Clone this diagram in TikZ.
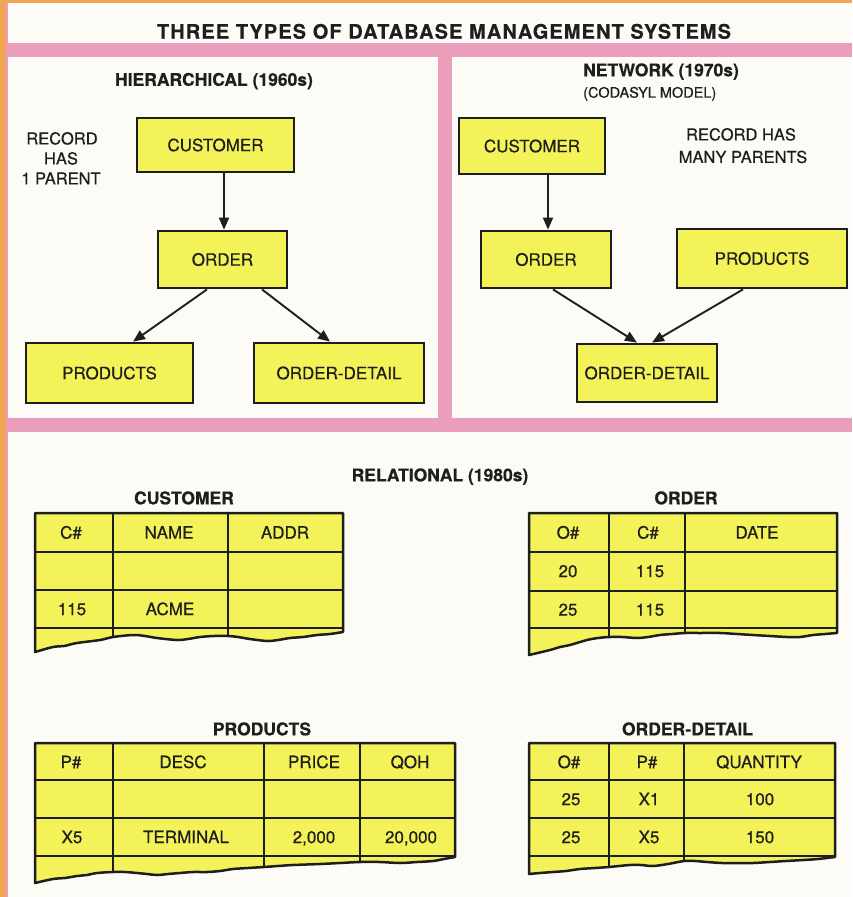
\documentclass[tikz,border=0pt]{standalone}
\usepackage{fontspec}
\setmainfont{TeX Gyre Heros}[FakeBold=0.5]
\newfontfamily\titlefont[LetterSpace=5.5,FakeBold=0.5]{TeX Gyre Heros}
\usetikzlibrary{arrows.meta,calc}
\definecolor{bg}{RGB}{252,251,246}
\definecolor{pinkband}{RGB}{234,158,188}
\definecolor{orangeedge}{RGB}{240,164,84}
\definecolor{ylw}{RGB}{243,242,88}
\definecolor{ink}{RGB}{30,30,30}
\begin{document}
\begin{tikzpicture}[x=1pt,y=-1pt,
 box/.style={draw=ink, line width=2.8pt, fill=ylw, inner sep=0pt, text=ink, font=\fontsize{17}{20}\selectfont},
 arr/.style={draw=ink, line width=1.9pt, -{Triangle[length=12pt,width=10pt]}},
 head/.style={inner sep=0pt, text=ink, font=\bfseries\fontsize{17.5}{21}\selectfont, text height=12.6pt, text depth=0pt},
 lbl/.style={inner sep=0pt, text=ink, font=\fontsize{16.5}{20}\selectfont, text height=11.9pt, text depth=0pt},
 cell/.style={inner sep=0pt, text=ink, font=\fontsize{17}{20}\selectfont, text height=12.2pt, text depth=0pt},
 tab/.style={draw=ink, line width=2.5pt, fill=ylw, line join=round},
 tline/.style={draw=ink, line width=2.5pt}
]
\useasboundingbox (0,0) rectangle (852,897);
% background and frame
\fill[bg] (0,0) rectangle (852,897);
\fill[orangeedge] (0,0) rectangle (852,3);
\fill[orangeedge] (0,0) rectangle (6,897);
\fill[pinkband] (6,3) rectangle (8,897);
\fill[pinkband] (6,43) rectangle (852,57);
\fill[pinkband] (6,418) rectangle (852,432);
\fill[pinkband] (438,43) rectangle (452,432);

% title
\node[inner sep=0pt, text=ink, font=\titlefont\bfseries\fontsize{20}{24}\selectfont, text height=14.4pt, text depth=0pt] (title) at (444,31.5) {THREE TYPES OF DATABASE MANAGEMENT SYSTEMS};

% hierarchical
\node[head] (hier) at (214,79.5) {HIERARCHICAL (1960s)};
\node[lbl] (rA) at (62,138.5) {RECORD};
\node[lbl] (rB) at (61,158.5) {HAS};
\node[lbl] (rC) at (61,178.5) {1 PARENT};
\node[box, minimum width=157pt, minimum height=54pt] (hc) at (215.5,145) {CUSTOMER};
\node[box, minimum width=129pt, minimum height=57pt] (ho) at (222.5,259.5) {ORDER};
\node[box, minimum width=167pt, minimum height=60pt] (hp) at (109.5,373) {PRODUCTS};
\node[box, minimum width=170pt, minimum height=60pt] (hd) at (339,373) {ORDER-DETAIL};
\draw[arr] ($(hc.south)+(8.5,0)$) -- ($(ho.north)+(1.5,0)$);
\draw[arr] ($(ho.south)+(-15.5,0)$) -- ($(hp.north)+(23.5,0)$);
\draw[arr] ($(ho.south)+(39.5,0)$) -- ($(hd.north)+(-9,0)$);

% network
\node[head, anchor=west] (net) at (583,70) {NETWORK (1970s)};
\node[inner sep=0pt, text=ink, font=\fontsize{14.5}{18}\selectfont, text height=10.4pt, text depth=0pt, anchor=west] (coda) at (583,92.5) {(CODASYL MODEL)};
\node[lbl] (rD) at (741,134.5) {RECORD HAS};
\node[lbl] (rE) at (743,157) {MANY PARENTS};
\node[box, minimum width=146pt, minimum height=56pt] (nc) at (532,146) {CUSTOMER};
\node[box, minimum width=130pt, minimum height=57pt] (no) at (546,259.5) {ORDER};
\node[box, minimum width=170pt, minimum height=59pt] (np) at (762,258.5) {PRODUCTS};
\node[box, minimum width=140pt, minimum height=58pt] (nd) at (647,373) {ORDER-DETAIL};
\draw[arr] ($(nc.south)+(16,0)$) -- ($(no.north)+(2,0)$);
\draw[arr] ($(no.south)+(7,0)$) -- ($(nd.north)+(-10,0)$);
\draw[arr] ($(np.south)+(-19,0)$) -- ($(nd.north)+(5,0)$);

% relational
\node[head] (rel) at (440,475) {RELATIONAL (1980s)};

% CUSTOMER table
\node[head] (tcust) at (184,498) {CUSTOMER};
\path[tab] (35,513) -- (343,513) -- (343,632) -- plot[smooth,tension=0.55] coordinates {(343,632) (330,634) (317,635) (303,637) (290,638) (278,640) (267,641) (250,639) (238,637) (228,636) (214,636) (200,637) (188,639) (177,640) (157,638) (145,636) (133,635) (113,637) (100,640) (77,643) (64,646) (53,647) (35,652)} -- cycle;
\draw[tline] (35,552) -- (343,552) (35,590) -- (343,590) (35,628) -- (343,628);
\draw[tline] (113,513) -- (113,637) (228,513) -- (228,636);
\node[cell] (c11) at (71,532.5) {C\#};
\node[cell] (c12) at (169,532.5) {NAME};
\node[cell] (c13) at (285,532.5) {ADDR};
\node[cell] (c31) at (72,609) {115};
\node[cell] (c32) at (170,609) {ACME};

% ORDER table
\node[head] (tord) at (686,498) {ORDER};
\path[tab] (529,513) -- (837,513) -- (837,633) -- plot[smooth,tension=0.55] coordinates {(837,633) (825,634) (813,635) (800,637) (787,637) (770,636) (753,635) (737,634) (720,633) (700,633) (685,633) (672,634) (660,635) (648,637) (637,638) (622,637) (610,637) (598,638) (587,640) (570,645) (560,647) (550,650) (529,655)} -- cycle;
\draw[tline] (529,552) -- (837,552) (529,591) -- (837,591) (529,628) -- (837,628);
\draw[tline] (609,513) -- (609,637) (685,513) -- (685,633);
\node[cell] (o11) at (568,532.5) {O\#};
\node[cell] (o12) at (648,532.5) {C\#};
\node[cell] (o13) at (757,532.5) {DATE};
\node[cell] (o21) at (568,571) {20};
\node[cell] (o22) at (650,571) {115};
\node[cell] (o31) at (568,609.5) {25};
\node[cell] (o32) at (650,609.5) {115};

% PRODUCTS table
\node[head] (tprod) at (262,729) {PRODUCTS};
\path[tab] (35,743) -- (455,743) -- (455,857) -- plot[smooth,tension=0.55] coordinates {(455,857) (444,859) (433,861) (417,862) (400,863) (380,862) (360,862) (340,863) (320,864) (293,865) (278,866) (264,867) (248,868) (233,869) (220,871) (207,872) (193,872) (180,873) (168,874) (157,875) (147,874) (137,873) (125,872) (113,872) (97,873) (87,875) (77,876) (65,878) (53,879) (35,883)} -- cycle;
\draw[tline] (35,780) -- (455,780) (35,818) -- (455,818) (35,856) -- (455,856);
\draw[tline] (113,743) -- (113,872) (264,743) -- (264,867) (360,743) -- (360,862);
\node[cell] (p11) at (71,762) {P\#};
\node[cell] (p12) at (183,762) {DESC};
\node[cell] (p13) at (314,762) {PRICE};
\node[cell] (p14) at (410,762) {QOH};
\node[cell] (p31) at (72,837) {X5};
\node[cell] (p32) at (186,837) {TERMINAL};
\node[cell] (p33) at (314,837) {2,000};
\node[cell] (p34) at (411,837) {20,000};

% ORDER-DETAIL table
\node[head] (tdet) at (687.5,729) {ORDER-DETAIL};
\path[tab] (529,743) -- (835,743) -- (835,857) -- plot[smooth,tension=0.55] coordinates {(835,857) (818,859) (803,860) (786,861) (770,862) (753,863) (737,863) (722,863) (707,862) (695,861) (684,861) (668,864) (653,866) (641,865) (630,865) (619,866) (609,867) (595,868) (580,869) (566,871) (553,872) (540,873) (529,874)} -- cycle;
\draw[tline] (529,780) -- (835,780) (529,818) -- (835,818) (529,856) -- (835,856);
\draw[tline] (609,743) -- (609,867) (684,743) -- (684,861);
\node[cell] (d11) at (569,762) {O\#};
\node[cell] (d12) at (647,762) {P\#};
\node[cell] (d13) at (759,762) {QUANTITY};
\node[cell] (d21) at (571,799) {25};
\node[cell] (d22) at (649,799) {X1};
\node[cell] (d23) at (760,799) {100};
\node[cell] (d31) at (571,837) {25};
\node[cell] (d32) at (649,837) {X5};
\node[cell] (d33) at (760,837) {150};
\end{tikzpicture}
\end{document}
